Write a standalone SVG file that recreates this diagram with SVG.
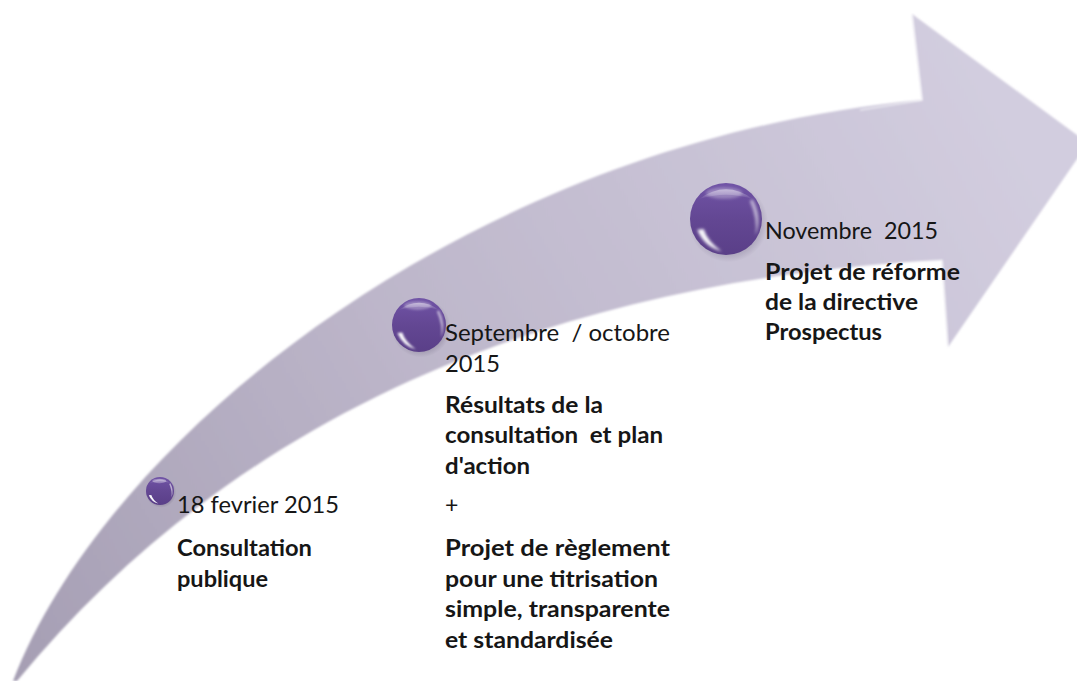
<svg xmlns="http://www.w3.org/2000/svg" width="1077" height="681" viewBox="0 0 1077 681">
  <defs>
    <linearGradient id="arrowFill" x1="0" y1="681" x2="1000" y2="120" gradientUnits="userSpaceOnUse">
      <stop offset="0" stop-color="#a59eb3"/>
      <stop offset="0.45" stop-color="#bdb6ca"/>
      <stop offset="1" stop-color="#d2cddf"/>
    </linearGradient>
    <linearGradient id="ballBody" x1="0" y1="0" x2="0" y2="1">
      <stop offset="0" stop-color="#7053a6"/>
      <stop offset="0.5" stop-color="#634793"/>
      <stop offset="1" stop-color="#5a3f88"/>
    </linearGradient>
    <linearGradient id="ballTop" x1="0" y1="0" x2="0" y2="1">
      <stop offset="0" stop-color="#ffffff" stop-opacity="0.45"/>
      <stop offset="1" stop-color="#ffffff" stop-opacity="0"/>
    </linearGradient>
    <radialGradient id="ballShadow">
      <stop offset="0.6" stop-color="#3a3050" stop-opacity="0.35"/>
      <stop offset="1" stop-color="#3a3050" stop-opacity="0"/>
    </radialGradient>
    <filter id="soft" x="-5%" y="-5%" width="110%" height="110%">
      <feGaussianBlur stdDeviation="0.8"/>
    </filter>
    <filter id="glow" x="-50%" y="-50%" width="200%" height="200%">
      <feGaussianBlur stdDeviation="0.04"/>
    </filter>
    <filter id="edgeGlow" x="-10%" y="-10%" width="120%" height="120%">
      <feGaussianBlur stdDeviation="1.2"/>
    </filter>
    <!-- one glossy marble, unit radius, scaled per milestone -->
    <g id="ball">
      <circle cx="0.07" cy="0.1" r="1.1" fill="url(#ballShadow)"/>
      <circle cx="0" cy="0" r="1" fill="url(#ballBody)"/>
      <path d="M-0.75,-0.55 Q0,-1.1 0.75,-0.55 Q0,-0.8 -0.75,-0.55 Z" fill="url(#ballTop)"/>
      <ellipse cx="-0.05" cy="-0.72" rx="0.5" ry="0.16" fill="#ffffff" fill-opacity="0.3" filter="url(#glow)"/>
      <path d="M-0.8,0.3 Q-0.6,0.78 -0.12,0.9 Q-0.52,0.62 -0.62,0.28 Z" fill="#ffffff" fill-opacity="0.95" filter="url(#glow)"/>
      <path d="M0.74,-0.55 Q1.02,-0.05 0.82,0.45 Q0.88,0 0.66,-0.5 Z" fill="#ffffff" fill-opacity="0.55" filter="url(#glow)"/>
    </g>
  </defs>
  <style>
    .date { font-family: Lato, "Open Sans", "Liberation Sans", sans-serif; font-size: 23px; fill: #161616; }
    .title { font-family: Lato, "Open Sans", "Liberation Sans", sans-serif; font-size: 23px; font-weight: bold; fill: #161616; }
  </style>

  <rect width="1077" height="681" fill="#ffffff"/>

  <!-- curved timeline arrow -->
  <g id="connectors">
    <path id="timeline-arrow" filter="url(#soft)" fill="url(#arrowFill)"
          d="M13,681 C110,430 480,140 922,100 L912,14 L1088,143 L948,347 L942,260 C560,280 240,410 17,681 Z"/>
    <path d="M912,14 L922,100 L860,110" fill="none" stroke="#ffffff" stroke-opacity="0.6" stroke-width="1.5" filter="url(#edgeGlow)"/>
    <path d="M942,260 L948,347" fill="none" stroke="#ffffff" stroke-opacity="0.5" stroke-width="1.5" filter="url(#edgeGlow)"/>
  </g>

  <g id="milestone-feb-2015">
    <use href="#ball" transform="translate(160,491) scale(14)"/>
    <text class="date" x="177" y="513" textLength="162" lengthAdjust="spacingAndGlyphs">18 fevrier 2015</text>
    <text class="title" x="177" y="556" textLength="135" lengthAdjust="spacingAndGlyphs">Consultation</text>
    <text class="title" x="177" y="587" textLength="91" lengthAdjust="spacingAndGlyphs">publique</text>
  </g>

  <g id="milestone-sep-oct-2015">
    <use href="#ball" transform="translate(419,325) scale(27)"/>
    <text class="date" x="445" y="341" xml:space="preserve" textLength="225" lengthAdjust="spacingAndGlyphs">Septembre  / octobre</text>
    <text class="date" x="445" y="372" textLength="55" lengthAdjust="spacingAndGlyphs">2015</text>
    <text class="title" x="445" y="413" textLength="158" lengthAdjust="spacingAndGlyphs">Résultats de la</text>
    <text class="title" x="445" y="443" xml:space="preserve" textLength="218" lengthAdjust="spacingAndGlyphs">consultation  et plan</text>
    <text class="title" x="445" y="474" textLength="85" lengthAdjust="spacingAndGlyphs">d'action</text>
    <text class="date" x="445" y="513">+</text>
    <text class="title" x="445" y="556" textLength="225" lengthAdjust="spacingAndGlyphs">Projet de règlement</text>
    <text class="title" x="445" y="587" textLength="213" lengthAdjust="spacingAndGlyphs">pour une titrisation</text>
    <text class="title" x="445" y="617" textLength="225" lengthAdjust="spacingAndGlyphs">simple, transparente</text>
    <text class="title" x="445" y="648" textLength="168" lengthAdjust="spacingAndGlyphs">et standardisée</text>
  </g>

  <g id="milestone-nov-2015">
    <use href="#ball" transform="translate(726,219) scale(36)"/>
    <text class="date" x="765" y="239" xml:space="preserve" textLength="173" lengthAdjust="spacingAndGlyphs">Novembre  2015</text>
    <text class="title" x="765" y="280" textLength="195" lengthAdjust="spacingAndGlyphs">Projet de réforme</text>
    <text class="title" x="765" y="310" textLength="153" lengthAdjust="spacingAndGlyphs">de la directive</text>
    <text class="title" x="765" y="340" textLength="117" lengthAdjust="spacingAndGlyphs">Prospectus</text>
  </g>
</svg>
